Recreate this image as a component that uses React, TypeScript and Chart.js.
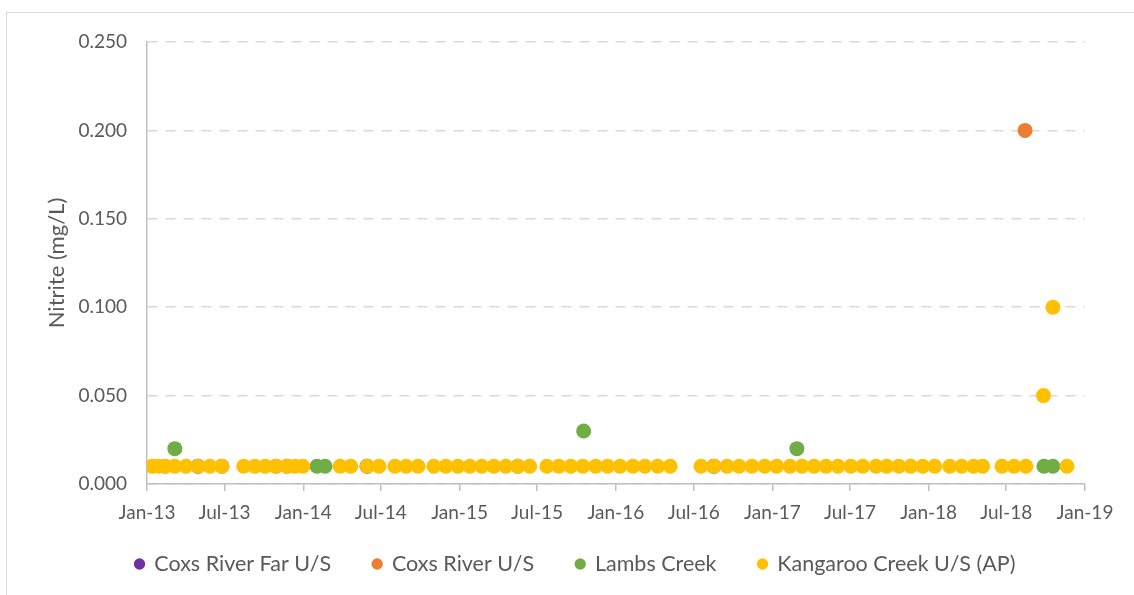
import { useEffect, useRef } from "react";
import { Chart, registerables } from "chart.js";

Chart.register(...registerables);

// ---- Data ----
const seriesNames = ["Coxs River Far U/S", "Coxs River U/S", "Lambs Creek", "Kangaroo Creek U/S (AP)"];

const farDates = ["2013-04-30", "2014-05-30", "2016-08-17"];
const farValues = [0.01, 0.01, 0.01];

const coxsDates = ["2013-02-12", "2013-10-29", "2013-11-24", "2018-08-14"];
const coxsValues = [0.01, 0.01, 0.01, 0.2];

const lambsDates = ["2013-03-07", "2013-06-25", "2014-02-02", "2014-02-21", "2015-05-17", "2015-10-18", "2017-02-27", "2018-09-27", "2018-10-18"];
const lambsValues = [0.02, 0.01, 0.01, 0.01, 0.01, 0.03, 0.02, 0.01, 0.01];

const kangarooDates = [
  "2013-01-13", "2013-01-27", "2013-02-12", "2013-03-07", "2013-04-02", "2013-04-30", "2013-05-28", "2013-06-25",
  "2013-08-15", "2013-09-10", "2013-10-04", "2013-10-29", "2013-11-24", "2013-12-13", "2013-12-31",
  "2014-03-28", "2014-04-22", "2014-05-30", "2014-06-27", "2014-08-03", "2014-08-29", "2014-09-26",
  "2014-11-02", "2014-11-30", "2014-12-28", "2015-01-25", "2015-02-22", "2015-03-22", "2015-04-19",
  "2015-05-17", "2015-06-14", "2015-07-24", "2015-08-21", "2015-09-18", "2015-10-16", "2015-11-15",
  "2015-12-13", "2016-01-11", "2016-02-10", "2016-03-09", "2016-04-08", "2016-05-07",
  "2016-07-18", "2016-08-17", "2016-09-17", "2016-10-15", "2016-11-14", "2016-12-14", "2017-01-11",
  "2017-02-11", "2017-03-11", "2017-04-08", "2017-05-06", "2017-06-03", "2017-07-03", "2017-07-31",
  "2017-08-31", "2017-09-25", "2017-10-23", "2017-11-20", "2017-12-18", "2018-01-15", "2018-02-19",
  "2018-03-19", "2018-04-16", "2018-05-07", "2018-06-21", "2018-07-19", "2018-08-16", "2018-09-26",
  "2018-10-18", "2018-11-20",
];
const kangarooValues = [
  0.01, 0.01, 0.01, 0.01, 0.01, 0.01, 0.01, 0.01,
  0.01, 0.01, 0.01, 0.01, 0.01, 0.01, 0.01,
  0.01, 0.01, 0.01, 0.01, 0.01, 0.01, 0.01,
  0.01, 0.01, 0.01, 0.01, 0.01, 0.01, 0.01,
  0.01, 0.01, 0.01, 0.01, 0.01, 0.01, 0.01,
  0.01, 0.01, 0.01, 0.01, 0.01, 0.01,
  0.01, 0.01, 0.01, 0.01, 0.01, 0.01, 0.01,
  0.01, 0.01, 0.01, 0.01, 0.01, 0.01, 0.01,
  0.01, 0.01, 0.01, 0.01, 0.01, 0.01, 0.01,
  0.01, 0.01, 0.01, 0.01, 0.01, 0.01, 0.05,
  0.1, 0.01,
];

const xTickDates = [
  "2013-01-01", "2013-07-01", "2014-01-01", "2014-07-01", "2015-01-01", "2015-07-01", "2016-01-01",
  "2016-07-01", "2017-01-01", "2017-07-01", "2018-01-01", "2018-07-01", "2019-01-01",
];
const xTickLabels = ["Jan-13", "Jul-13", "Jan-14", "Jul-14", "Jan-15", "Jul-15", "Jan-16", "Jul-16", "Jan-17", "Jul-17", "Jan-18", "Jul-18", "Jan-19"];
const yTickValues = [0, 0.05, 0.1, 0.15, 0.2, 0.25];
const yTitle = "Nitrite (mg/L)";

// ---- Styles ----
const colors = ["#7030A0", "#ED7D31", "#70AD47", "#FFC000"];
const textColor = "#595959";
const FONT = "Lato";
const LEGEND_TEXT_Y = 564;
const LEGEND_SHIFT_X = 13;

const toDay = (s: string) =>
  (Date.UTC(+s.slice(0, 4), +s.slice(5, 7) - 1, +s.slice(8, 10)) - Date.UTC(2013, 0, 1)) / 86400000;

const pts = (dates: string[], vals: number[]) => dates.map((d, i) => ({ x: toDay(d), y: vals[i] }));

const legendPlace = {
  id: "legendPlace",
  afterLayout(chart: any) {
    const l = chart.legend;
    if (!l) return;
    const opts = l.options.labels;
    const fs = opts.font.size;
    const top = LEGEND_TEXT_Y - opts.padding - fs / 2;
    l.top = top;
    l.left += LEGEND_SHIFT_X;
    l.right += LEGEND_SHIFT_X;
  },
};

export default function App() {
  const ref = useRef<HTMLCanvasElement | null>(null);

  useEffect(() => {
    if (!ref.current) return;
    const allData = [
      pts(farDates, farValues),
      pts(coxsDates, coxsValues),
      pts(lambsDates, lambsValues),
      pts(kangarooDates, kangarooValues),
    ];
    const chart = new Chart(ref.current, {
      type: "scatter",
      data: {
        datasets: allData.map((d, i) => ({
          label: seriesNames[i],
          data: d,
          backgroundColor: colors[i],
          borderColor: colors[i],
          pointRadius: 7.5,
          pointHoverRadius: 7.5,
          pointBorderWidth: 0,
          borderWidth: 0,
          order: 4 - i,
          showLine: false,
        })),
      },
      plugins: [legendPlace],
      options: {
        animation: false,
        responsive: false,
        maintainAspectRatio: false,
        layout: { padding: { left: 40, right: 49, top: 42, bottom: 11 } },
        plugins: {
          tooltip: { enabled: false },
          legend: {
            position: "bottom",
            maxHeight: 62,
            labels: {
              usePointStyle: true,
              pointStyle: "circle",
              boxWidth: 8,
              boxHeight: 8,
              padding: 42,
              color: textColor,
              font: { family: FONT, size: 21.5 },
              sort: (a: any, b: any) => a.datasetIndex - b.datasetIndex,
            },
          },
        },
        scales: {
          x: {
            type: "linear",
            min: toDay(xTickDates[0]),
            max: toDay(xTickDates[xTickDates.length - 1]),
            afterBuildTicks: (scale: any) => {
              scale.ticks = xTickDates.map((d) => ({ value: toDay(d) }));
            },
            afterFit: (scale: any) => {
              scale.height = 38;
            },
            ticks: {
              autoSkip: false,
              maxRotation: 0,
              padding: 12,
              color: textColor,
              font: { family: FONT, size: 19, lineHeight: 1 },
              callback: (_v: any, i: number) => xTickLabels[i],
            },
            grid: {
              drawOnChartArea: false,
              drawTicks: true,
              tickLength: 7,
              color: "#bfbfbf",
              lineWidth: 1.5,
            },
            border: { display: true, color: "#bfbfbf", width: 1.5 },
          },
          y: {
            min: 0,
            max: 0.25,
            afterBuildTicks: (scale: any) => {
              scale.ticks = yTickValues.map((v) => ({ value: v }));
            },
            afterFit: (scale: any) => {
              scale.width = 107;
            },
            ticks: {
              padding: 20,
              color: textColor,
              font: { family: FONT, size: 19 },
              callback: (v: any) => Number(v).toFixed(3),
            },
            title: {
              display: true,
              text: yTitle,
              color: textColor,
              font: { family: FONT, size: 22 },
              padding: { top: 4, bottom: 4 },
            },
            grid: {
              drawTicks: false,
              color: "#d9d9d9",
              lineWidth: 1.5,
            },
            border: { display: true, color: "#bfbfbf", width: 1.5, dash: [10, 8] },
          },
        },
      },
    });
    return () => chart.destroy();
  }, []);

  return (
    <div style={{ position: "absolute", left: 0, top: 0, width: 1134, height: 595, background: "#ffffff", overflow: "hidden" }}>
      <div
        style={{
          position: "absolute",
          left: 6,
          top: 12,
          width: 1150,
          height: 620,
          border: "1px solid #d9d9d9",
          boxSizing: "border-box",
        }}
      />
      <canvas ref={ref} width={1134} height={595} style={{ position: "absolute", left: 0, top: 0 }} />
    </div>
  );
}
